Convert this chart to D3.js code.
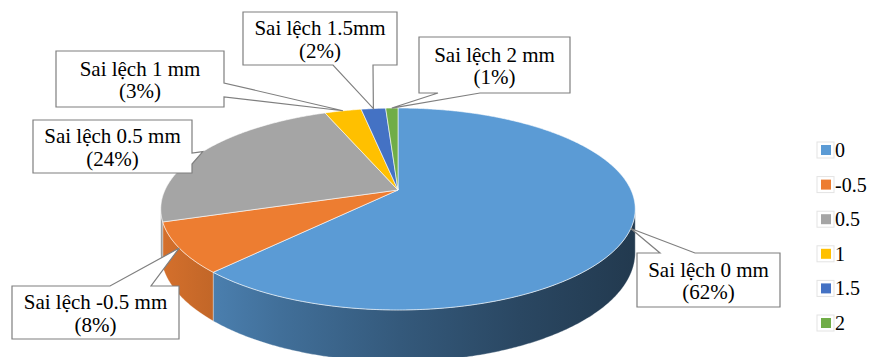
<!DOCTYPE html>
<html>
<head>
<meta charset="utf-8">
<script src="https://cdn.jsdelivr.net/npm/d3@7"></script>
<style>
  body { margin: 0; background: #fff; }
  svg { display: block; }
</style>
</head>
<body>
<div id="chart"></div>
<script>
var w = 870;
var h = 357;
var font = "'Times New Roman', 'Liberation Serif', 'DejaVu Serif', serif";

// data
var categories = ["0", "-0.5", "0.5", "1", "1.5", "2"];
var values = [62, 8, 24, 3, 2, 1];
var labelNames = ["Sai lệch 0 mm", "Sai lệch -0.5 mm", "Sai lệch 0.5 mm", "Sai lệch 1 mm", "Sai lệch 1.5mm", "Sai lệch 2 mm"];
var colors = ["#5B9BD5", "#ED7D31", "#A5A5A5", "#FFC000", "#4472C4", "#70AD47"];

// pie geometry (perspective ellipse)
var CX = 398, CY = 190;
var RX = 233, RY = 97.4;
var K = 0.188;      // perspective strength
var DEPTH = 42;     // thickness of the pie

// callout boxes (layout only)
var callouts = [
  {x: 637, y: 253, w: 143, h: 54, side: "top", a: [660, 695]},
  {x: 12, y: 286, w: 167, h: 53, side: "top", a: [110, 151]},
  {x: 33, y: 120, w: 159, h: 53, side: "right", a: [153, 164]},
  {x: 56, y: 51, w: 168, h: 56, side: "right", a: [83, 97]},
  {x: 243, y: 12, w: 154, h: 53, side: "bottom", a: [333, 373]},
  {x: 419, y: 37, w: 151, h: 56, side: "bottom", a: [438, 480]}
];

function proj(t, r, hh) {
  var u = r * Math.sin(t), v = -r * Math.cos(t);
  var s = 1 / (1 - K * v);
  return [CX + RX * u * s, CY + RY * v * s + DEPTH * hh * s];
}

function arcPoints(a0, a1, hh) {
  var n = Math.max(2, Math.ceil((a1 - a0) / 0.01));
  return d3.range(n + 1).map(function(i) {
    return proj(a0 + (a1 - a0) * i / n, 1, hh);
  });
}

var line = d3.line();

function main() {
  var svg = d3.select("#chart").append("svg")
    .attr("width", w)
    .attr("height", h);

  var total = d3.sum(values);
  var pie = d3.pie().sort(null).value(function(d) { return d; });
  var arcs = pie(values);

  // gradients for side walls
  var defs = svg.append("defs");
  arcs.forEach(function(a, i) {
    var g = defs.append("linearGradient")
      .attr("id", "side" + i)
      .attr("gradientUnits", "userSpaceOnUse")
      .attr("x1", 160).attr("x2", 640).attr("y1", 0).attr("y2", 0);
    [0, 0.25, 0.5, 0.75, 1].forEach(function(o) {
      g.append("stop")
        .attr("offset", o)
        .attr("stop-color", d3.color(colors[i]).darker(0.3 + 2.5 * o).formatHex());
    });
  });

  // side walls (front half only)
  var T1 = Math.acos(-K), T2 = 2 * Math.PI - T1;
  var sides = svg.append("g");
  arcs.forEach(function(a, i) {
    var t0 = Math.max(a.startAngle, T1), t1 = Math.min(a.endAngle, T2);
    if (t1 <= t0) return;
    var pts = arcPoints(t0, t1, 0).concat(arcPoints(t0, t1, 1).reverse());
    sides.append("path")
      .attr("d", line(pts) + "Z")
      .attr("fill", "url(#side" + i + ")")
      .attr("stroke", "rgba(255,255,255,0.45)")
      .attr("stroke-width", 0.7);
  });

  // top face
  var top = svg.append("g");
  arcs.forEach(function(a, i) {
    var pts = [proj(0, 0, 0)].concat(arcPoints(a.startAngle, a.endAngle, 0));
    top.append("path")
      .attr("d", line(pts) + "Z")
      .attr("fill", colors[i])
      .attr("stroke", "#fff")
      .attr("stroke-width", 0.6)
      .attr("stroke-linejoin", "round");
  });

  // callouts
  var lab = svg.append("g");
  arcs.forEach(function(a, i) {
    var c = callouts[i];
    var tip = proj((a.startAngle + a.endAngle) / 2, 1, 0);
    var x0 = c.x, y0 = c.y, x1 = c.x + c.w, y1 = c.y + c.h;
    var p = d3.path();
    p.moveTo(x0, y0);
    if (c.side === "top") { p.lineTo(c.a[0], y0); p.lineTo(tip[0], tip[1]); p.lineTo(c.a[1], y0); }
    p.lineTo(x1, y0);
    if (c.side === "right") { p.lineTo(x1, c.a[0]); p.lineTo(tip[0], tip[1]); p.lineTo(x1, c.a[1]); }
    p.lineTo(x1, y1);
    if (c.side === "bottom") { p.lineTo(c.a[1], y1); p.lineTo(tip[0], tip[1]); p.lineTo(c.a[0], y1); }
    p.lineTo(x0, y1);
    p.closePath();
    lab.append("path")
      .attr("d", p.toString())
      .attr("fill", "#fff")
      .attr("stroke", "#7f7f7f")
      .attr("stroke-width", 1.2)
      .attr("stroke-linejoin", "miter");

    var mx = x0 + c.w / 2, my = y0 + c.h / 2;
    lab.append("text")
      .attr("x", mx).attr("y", my - 3.5)
      .attr("text-anchor", "middle")
      .attr("font-family", font)
      .attr("font-size", "21px")
      .attr("fill", "#000")
      .text(labelNames[i]);
    lab.append("text")
      .attr("x", mx).attr("y", my + 19)
      .attr("text-anchor", "middle")
      .attr("font-family", font)
      .attr("font-size", "21px")
      .attr("fill", "#000")
      .text("(" + Math.round(values[i] / total * 100) + "%)");
  });

  // legend
  var ly = d3.scalePoint().domain(categories).range([150, 323]);
  var leg = svg.append("g").selectAll("g")
    .data(categories)
    .enter().append("g")
    .attr("transform", function(d) { return "translate(821," + ly(d) + ")"; });
  leg.append("rect")
    .attr("x", -4).attr("y", -8).attr("width", 17).attr("height", 16)
    .attr("fill", "none").attr("stroke", "#e3e3e3").attr("stroke-width", 1);
  leg.append("rect")
    .attr("x", 0).attr("y", -5).attr("width", 10).attr("height", 10)
    .attr("fill", function(d, i) { return colors[i]; });
  leg.append("text")
    .attr("x", 14).attr("y", 7)
    .attr("font-family", font)
    .attr("font-size", "20px")
    .attr("fill", "#000")
    .text(function(d) { return d; });
}

window.onload = function() {
  main();
};
</script>
</body>
</html>
